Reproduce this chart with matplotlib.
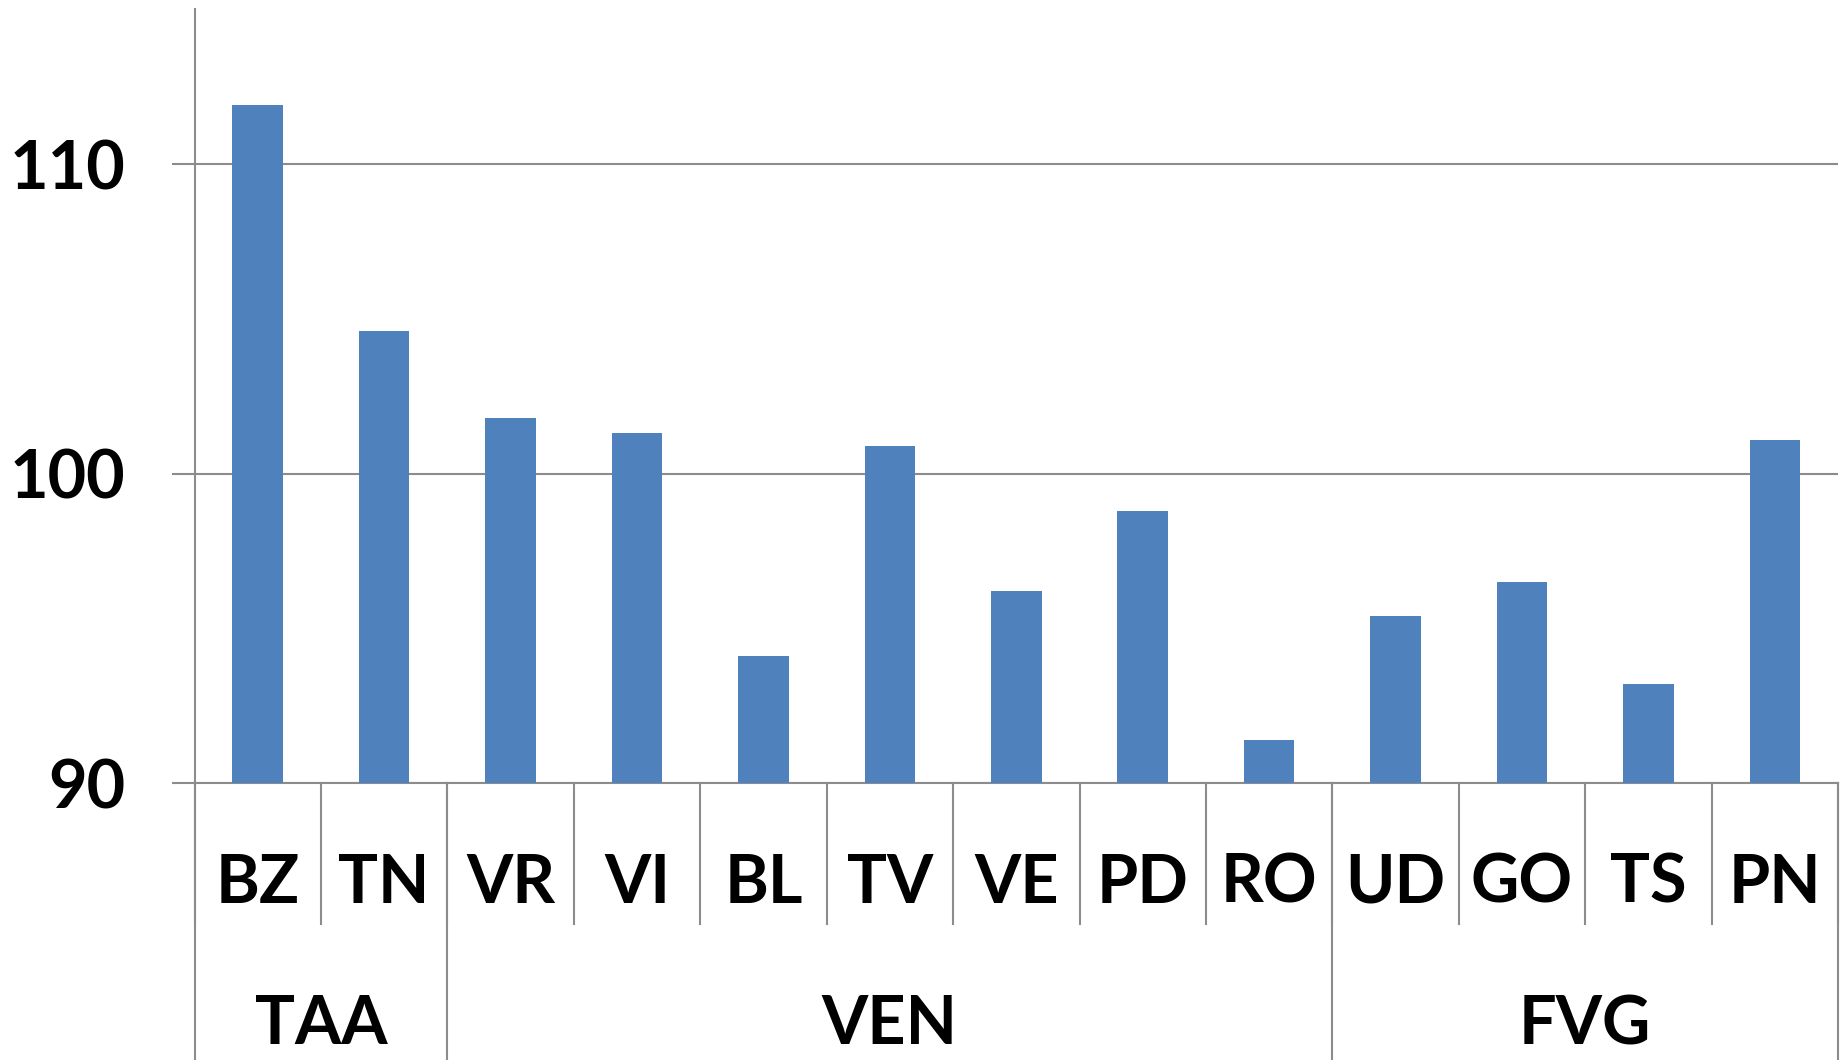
import matplotlib
matplotlib.use("Agg")
import matplotlib.pyplot as plt
import matplotlib.transforms as mtransforms

categories = ["BZ", "TN", "VR", "VI", "BL", "TV", "VE", "PD", "RO", "UD", "GO", "TS", "PN"]
values = [111.9, 104.6, 101.8, 101.3, 94.1, 100.9, 96.2, 98.8, 91.4, 95.4, 96.5, 93.2, 101.1]
groups = ["TAA", "VEN", "FVG"]
group_sizes = [2, 7, 4]
yticks = [90, 100, 110]

plt.rcParams['font.family'] = ['Lato', 'DejaVu Sans']
FW = 'bold'

fig = plt.figure(figsize=(18.49, 10.60), dpi=100)
ax = fig.add_axes([0.1052, 0.2613, 0.9941 - 0.1052, 0.9911 - 0.2613])

grey = "#8c8c8c"
x = list(range(len(categories)))
ax.bar(x, [v - 90 for v in values], bottom=90, width=0.4, color="#4F81BD", zorder=3)

ax.set_xlim(-0.5, len(categories) - 0.5)
ax.set_ylim(90, 115)
ax.set_yticks(yticks)
ax.set_yticklabels([str(t) for t in yticks], fontsize=48, fontweight=FW)
ax.tick_params(axis='y', length=16.6, width=1.5, color=grey, pad=33)
ax.set_xticks([])
ax.yaxis.grid(True, color=grey, linewidth=1.5, zorder=0)
for s in ["top", "right"]:
    ax.spines[s].set_visible(False)
for s in ["left", "bottom"]:
    ax.spines[s].set_color(grey)
    ax.spines[s].set_linewidth(1.5)

trans = mtransforms.blended_transform_factory(ax.transData, ax.transAxes)

# category labels and separators
for i, c in enumerate(categories):
    ax.text(i, -0.130, c, transform=trans, ha='center', va='center',
            fontsize=48, fontweight=FW)
for b in range(len(categories) + 1):
    ax.plot([b - 0.5, b - 0.5], [0, -0.182], transform=trans, color=grey,
            linewidth=1.5, clip_on=False)

# group labels and separators
start = 0
bounds = [0]
for g, n in zip(groups, group_sizes):
    center = start + (n - 1) / 2
    ax.text(center, -0.313, g, transform=trans, ha='center', va='center',
            fontsize=48, fontweight=FW)
    start += n
    bounds.append(start)
for b in bounds:
    ax.plot([b - 0.5, b - 0.5], [0, -0.36], transform=trans, color=grey,
            linewidth=1.5, clip_on=False)

fig.savefig("out.png", dpi=100)
